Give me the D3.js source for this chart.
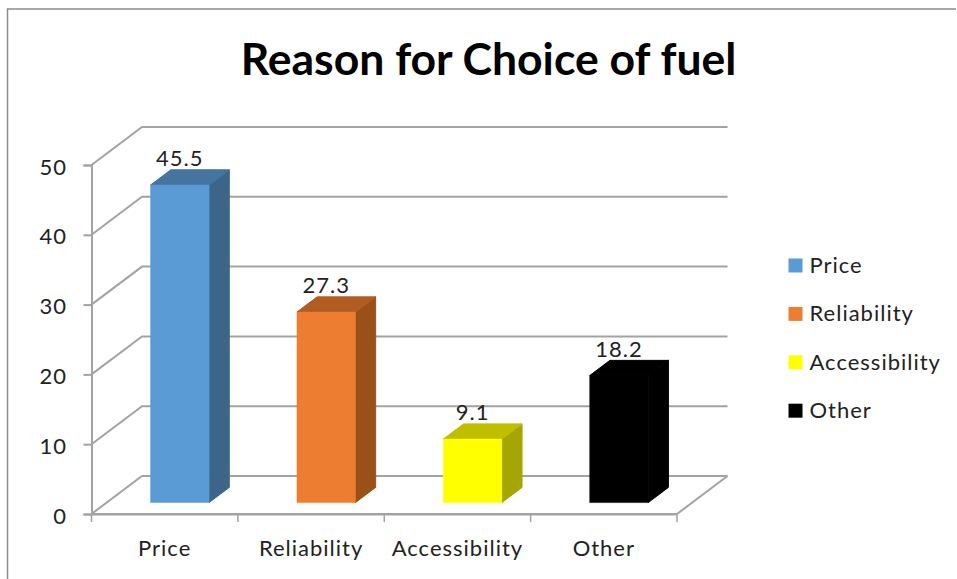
<!DOCTYPE html>
<html lang="en">
<head>
<meta charset="utf-8">
<title>Reason for Choice of fuel</title>
<script src="https://d3js.org/d3.v7.min.js"></script>
<style>
  html, body { margin: 0; padding: 0; background: #fff; }
  svg { display: block; }
  text { font-family: Lato, "Open Sans", sans-serif; fill: #222; }
  .lbl { font-size: 22px; letter-spacing: 1px; }
</style>
</head>
<body>
<script>
const categories = ["Price", "Reliability", "Accessibility", "Other"];
const values = [45.5, 27.3, 9.1, 18.2];
const yTicks = [0, 10, 20, 30, 40, 50];
const frontColors = ["#5b9bd5", "#ed7d31", "#ffff00", "#000000"];
const sideColors = ["#3c6589", "#9a5119", "#a6a600", "#000000"];
const topColors = ["#44749f", "#b15c20", "#bfbf00", "#000000"];

const w = 957, h = 579;
const svg = d3.select("body").append("svg").attr("width", w).attr("height", h);

// front plane scales, depth is 0 at the front and 1 on the back wall
const x = d3.scaleBand().domain(categories).range([91.5, 677]);
const y = d3.scaleLinear().domain([0, 50]).range([514, 165]);
const depthX = d3.scaleLinear().domain([0, 1]).range([0, 50.5]);
const depthY = d3.scaleLinear().domain([0, 1]).range([0, -38]);
const barW = 58.5, barGap = (x.bandwidth() - barW) / 2;

const gridColor = "#a3a3a3";
const right = x.range()[1], left = x.range()[0];
const pt = (px, v, d) => [px + depthX(d), y(v) + depthY(d)];
const line = d3.line();

// frame
svg.append("path").attr("d", `M7.5 ${h}V9H956`)
  .attr("fill", "none").attr("stroke", "#8c8c8c").attr("stroke-width", 1.5);

// gridlines: side wall + back wall
svg.append("g").selectAll("path").data(yTicks).join("path")
  .attr("d", v => line([pt(left, v, 0), pt(left, v, 1), pt(right, v, 1)]))
  .attr("fill", "none").attr("stroke", gridColor).attr("stroke-width", 2);

// floor front edge and right edge
svg.append("path")
  .attr("d", line([pt(left, 0, 0), pt(right, 0, 0), pt(right, 0, 1)]))
  .attr("fill", "none").attr("stroke", gridColor).attr("stroke-width", 2);

// axes
const axisY = svg.append("g").attr("transform", `translate(${left},0)`)
  .call(d3.axisLeft(y).tickValues(yTicks).tickSize(8).tickPadding(16.5));
const axisX = svg.append("g").attr("transform", `translate(0,${y(0)})`)
  .call(d3.axisBottom(x).tickSize(0).tickPadding(26));
axisY.selectAll("text").attr("class", "lbl").attr("dy", "0.41em");
axisX.selectAll("text").attr("class", "lbl");
axisY.select(".domain").attr("stroke", gridColor).attr("stroke-width", 2);
axisX.select(".domain").attr("stroke", gridColor).attr("stroke-width", 2);
axisY.selectAll("line").attr("stroke", gridColor).attr("stroke-width", 2);
svg.append("g").selectAll("line").data(d3.range(categories.length + 1)).join("line")
  .attr("x1", i => left + i * x.step()).attr("x2", i => left + i * x.step())
  .attr("y1", y(0)).attr("y2", y(0) + 8)
  .attr("stroke", gridColor).attr("stroke-width", 1.5);

// bars
const near = 0.3, far = 0.7;
const bars = svg.append("g").selectAll("g").data(categories).join("g");
const bx = c => x(c) + barGap;
const val = c => values[categories.indexOf(c)];
bars.append("path") // side
  .attr("d", c => line([pt(bx(c) + barW, 0, near), pt(bx(c) + barW, 0, far), pt(bx(c) + barW, val(c), far), pt(bx(c) + barW, val(c), near)]) + "Z")
  .attr("fill", (c, i) => sideColors[i]).attr("stroke", (c, i) => sideColors[i]).attr("stroke-width", 1);
bars.append("path") // top
  .attr("d", c => line([pt(bx(c), val(c), near), pt(bx(c), val(c), far), pt(bx(c) + barW, val(c), far), pt(bx(c) + barW, val(c), near)]) + "Z")
  .attr("fill", (c, i) => topColors[i]).attr("stroke", (c, i) => topColors[i]).attr("stroke-width", 1);
bars.append("path") // front
  .attr("d", c => line([pt(bx(c), 0, near), pt(bx(c) + barW, 0, near), pt(bx(c) + barW, val(c), near), pt(bx(c), val(c), near)]) + "Z")
  .attr("fill", (c, i) => frontColors[i]).attr("stroke", (c, i) => frontColors[i]).attr("stroke-width", 0.5);

// data labels
bars.append("text").attr("class", "lbl")
  .attr("x", c => pt(bx(c) + barW / 2, val(c), near)[0])
  .attr("y", c => pt(bx(c), val(c), far)[1] - 3.5)
  .attr("text-anchor", "middle")
  .text(c => val(c));

// title
svg.append("text").attr("x", 488.5).attr("y", 75).attr("text-anchor", "middle")
  .style("font-size", "44.5px").style("font-weight", "700").style("fill", "#000")
  .text("Reason for Choice of fuel");

// legend
const legend = svg.append("g").selectAll("g").data(categories).join("g")
  .attr("transform", (c, i) => `translate(788.5,${265.5 + i * 48.4})`);
legend.append("rect").attr("x", 0).attr("y", -7).attr("width", 14).attr("height", 14)
  .attr("fill", (c, i) => frontColors[i]);
legend.append("text").attr("class", "lbl").attr("x", 21).attr("y", 7.5).text(c => c);
</script>
</body>
</html>
